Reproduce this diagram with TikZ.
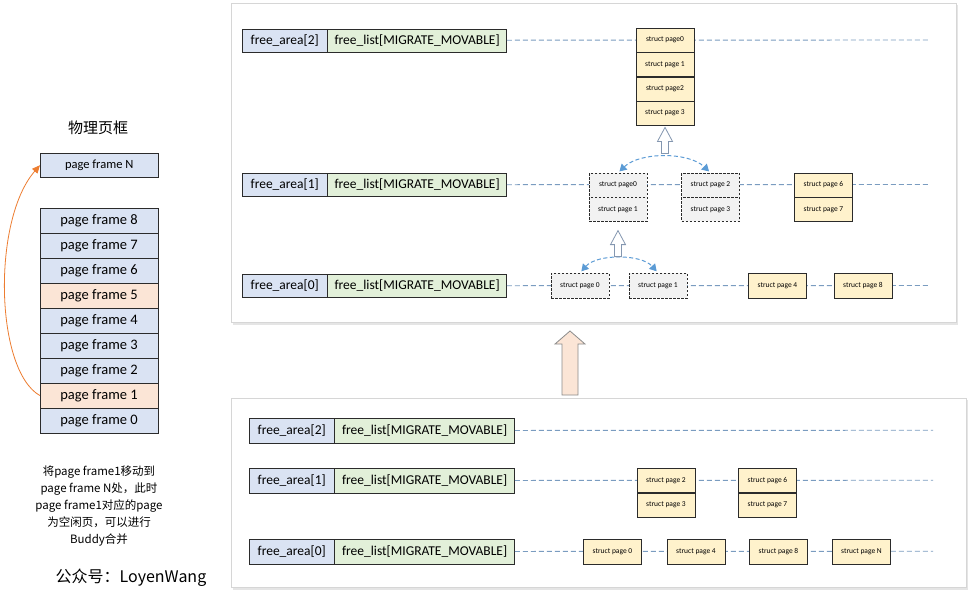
\documentclass[tikz,border=0pt]{standalone}
\usepackage{fontspec}
\setmainfont{Carlito}
\newfontfamily\cjk{Noto Sans CJK SC}
\usetikzlibrary{arrows.meta,positioning,calc}
\definecolor{frameblue}{HTML}{DAE3F3}
\definecolor{frameorange}{HTML}{FBE5D6}
\definecolor{listgreen}{HTML}{E2F0D9}
\definecolor{pageyellow}{HTML}{FFF2CC}
\definecolor{pagegray}{HTML}{F2F2F2}
\definecolor{dashblue}{HTML}{7A9CC0}
\definecolor{arcblue}{HTML}{5B9BD5}
\definecolor{arroworange}{HTML}{ED7D31}
\definecolor{boxline}{HTML}{2B2B2B}
\definecolor{panelline}{HTML}{D6D6D6}
\definecolor{hollowline}{HTML}{8497B0}
\tikzset{
  pframe/.style={draw=boxline, fill=frameblue, minimum width=118pt, minimum height=25pt, inner sep=0pt, font=\fontsize{14.5}{14.5}\selectfont},
  faBox/.style={draw=boxline, fill=frameblue, minimum width=85pt, minimum height=23pt, inner sep=0pt, font=\fontsize{13.5}{13.5}\selectfont},
  flBox/.style={draw=boxline, fill=listgreen, minimum width=179pt, minimum height=23pt, inner sep=0pt, font=\fontsize{13.5}{13.5}\selectfont},
  spage/.style={draw=boxline, fill=pageyellow, minimum width=58pt, minimum height=24pt, inner sep=0pt, font=\fontsize{7.5}{7.5}\selectfont},
  spaged/.style={spage, fill=pagegray, dash pattern=on 2.5pt off 1.5pt},
  dline/.style={draw=dashblue, line width=0.9pt, dash pattern=on 5pt off 3pt},
  barc/.style={draw=arcblue, line width=1pt, dash pattern=on 4pt off 2.5pt, {Triangle[width=8pt,length=7pt]}-{Triangle[width=8pt,length=7pt]}, shorten <=2pt, shorten >=2pt},
  panel/.style={draw=panelline, fill=white, line width=0.8pt},
  panelshadow/.style={fill=black!10, draw=none},
  hollow/.style={draw=hollowline, fill=white, line width=0.8pt, line join=miter},
  uparrow/.pic={\draw[hollow] (0,0) -- (7.5,14) -- (3.5,14) -- (3.5,26) -- (-3.5,26) -- (-3.5,14) -- (-7.5,14) -- cycle;},
  node distance=0pt
}
\begin{document}
\begin{tikzpicture}[x=1pt,y=-1pt]
\useasboundingbox (0,0) rectangle (972,595);
\fill[white] (0,0) rectangle (972,595);

% ---------- left column ----------
\node[font=\cjk\fontsize{15}{15}\selectfont] (title) at (98,128) {物理页框};
\node[pframe, anchor=north west, minimum height=24pt, font=\fontsize{12.5}{12.5}\selectfont] (pfN) at (40,153) {page frame N};
\foreach \i/\yy/\col in {8/220.5/frameblue,7/245.5/frameblue,6/270.5/frameblue,5/295.5/frameorange,4/320.5/frameblue,3/345.5/frameblue,2/370.5/frameblue,1/395.5/frameorange,0/420.5/frameblue}{
  \node[pframe, fill=\col] (pf\i) at (99,\yy) {page frame \i};
}
\draw[arroworange, line width=0.8pt, -{Triangle[width=7pt,length=8pt]}] (pf1.west) .. controls (-5,370) and (-8,220) .. (pfN.west);

\node[font=\cjk\fontsize{11.5}{17}\selectfont, align=center, anchor=north] (note) at (99,462)
  {将page frame1移动到\\page frame N处，此时\\page frame1对应的page\\为空闲页，可以进行\\Buddy合并};
\node[font=\cjk\fontsize{16}{16}\selectfont] (sign) at (131,578) {公众号：LoyenWang};

% ---------- top panel ----------
\fill[panelshadow] (233,5) rectangle (958,325);
\node[panel, anchor=north west, minimum width=725pt, minimum height=319pt, inner sep=0pt] (toppanel) at (231,3) {};

\node[faBox, anchor=north west] (ta2) at (242,28.5) {free\_area[2]};
\node[flBox, anchor=west] (tl2) at (ta2.east) {free\_list[MIGRATE\_MOVABLE]};
\node[faBox, anchor=north west] (ta1) at (242,173) {free\_area[1]};
\node[flBox, anchor=west] (tl1) at (ta1.east) {free\_list[MIGRATE\_MOVABLE]};
\node[faBox, anchor=north west] (ta0) at (242,274) {free\_area[0]};
\node[flBox, anchor=west] (tl0) at (ta0.east) {free\_list[MIGRATE\_MOVABLE]};

\coordinate (te2) at (928,40);
\coordinate (te1) at (928,184.5);
\coordinate (te0) at (928,285.5);
\draw[dline] (tl2.east) -- (te2);
\draw[dline] (tl1.east) -- (te1);
\draw[dline] (tl0.east) -- (te0);

% order 2 block
\node[spage] (s2a) at (665,40) {struct page0};
\node[spage, below=of s2a] (s2b) {struct page 1};
\node[spage, below=of s2b] (s2c) {struct page2};
\node[spage, below=of s2c] (s2d) {struct page 3};

% order 1
\node[spaged] (t1a) at (618,185) {struct page0};
\node[spaged, below=of t1a] (t1b) {struct page 1};
\node[spaged] (t1c) at (710.5,185) {struct page 2};
\node[spaged, below=of t1c] (t1d) {struct page 3};
\node[spage] (t1e) at (823.5,185) {struct page 6};
\node[spage, below=of t1e] (t1f) {struct page 7};

% order 0
\node[spaged, minimum height=25pt] (t0a) at (580,285.5) {struct page 0};
\node[spaged, minimum height=25pt] (t0b) at (658,285.5) {struct page 1};
\node[spage, minimum height=25pt] (t0c) at (777.5,285.5) {struct page 4};
\node[spage, minimum height=25pt] (t0d) at (863,285.5) {struct page 8};

% merge arcs
\draw[barc] (t1a.north) .. controls +(22,-21) and +(-22,-21) .. (t1c.north);
\draw[barc] (t0a.north) .. controls +(17,-19) and +(-17,-19) .. (t0b.north);

% hollow up arrows
\pic at ($(s2d.south)+(0,2)$) {uparrow};
\pic at ($(t1b.south)+(0,9)$) {uparrow};

% ---------- big arrow between panels ----------
\draw[draw=black!45, fill=frameorange, line width=0.8pt, line join=miter]
  (570,331) -- (585,344) -- (578,344) -- (578,395) -- (562,395) -- (562,344) -- (555,344) -- cycle;

% ---------- bottom panel ----------
\fill[panelshadow] (233,400) rectangle (968,590);
\node[panel, anchor=north west, minimum width=735pt, minimum height=189pt, inner sep=0pt] (botpanel) at (231,398) {};

\node[faBox, anchor=north west, minimum height=24.5pt] (ba2) at (249,418) {free\_area[2]};
\node[flBox, anchor=west, minimum width=180pt, minimum height=24.5pt] (bl2) at (ba2.east) {free\_list[MIGRATE\_MOVABLE]};
\node[faBox, anchor=north west, minimum height=24.5pt] (ba1) at (249,468) {free\_area[1]};
\node[flBox, anchor=west, minimum width=180pt, minimum height=24.5pt] (bl1) at (ba1.east) {free\_list[MIGRATE\_MOVABLE]};
\node[faBox, anchor=north west, minimum height=24.5pt] (ba0) at (249,539) {free\_area[0]};
\node[flBox, anchor=west, minimum width=180pt, minimum height=24.5pt] (bl0) at (ba0.east) {free\_list[MIGRATE\_MOVABLE]};

\coordinate (be2) at (933,430.25);
\coordinate (be1) at (933,480.25);
\coordinate (be0) at (933,551.25);
\draw[dline] (bl2.east) -- (be2);
\draw[dline] (bl1.east) -- (be1);
\draw[dline] (bl0.east) -- (be0);

\node[spage, minimum height=24.5pt] (b1a) at (666,480.25) {struct page 2};
\node[spage, below=of b1a] (b1b) {struct page 3};
\node[spage, minimum height=24.5pt] (b1c) at (767.5,480.25) {struct page 6};
\node[spage, below=of b1c] (b1d) {struct page 7};

\node[spage, minimum height=25pt] (b0a) at (612.5,551.5) {struct page 0};
\node[spage, minimum height=25pt] (b0b) at (696,551.5) {struct page 4};
\node[spage, minimum height=25pt] (b0c) at (778.5,551.5) {struct page 8};
\node[spage, minimum height=25pt] (b0d) at (861.5,551.5) {struct page N};
\end{tikzpicture}
\end{document}
